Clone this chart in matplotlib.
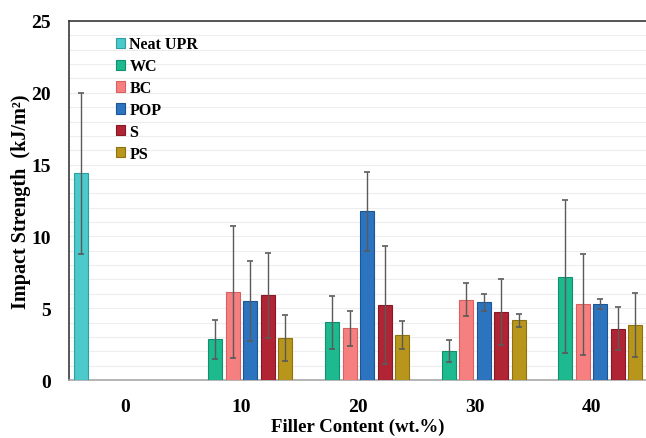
import numpy as np
import matplotlib
matplotlib.use("Agg")
import matplotlib.pyplot as plt

nan = np.nan
categories = ["0", "10", "20", "30", "40"]
series_names = ["Neat UPR", "WC", "BC", "POP", "S", "PS"]

neat_upr = [14.4, nan, nan, nan, nan]
wc = [nan, 2.83, 4.02, 2.04, 7.2]
bc = [nan, 6.1, 3.6, 5.6, 5.27]
pop = [nan, 5.5, 11.75, 5.41, 5.27]
s = [nan, 5.9, 5.22, 4.71, 3.57]
ps = [nan, 2.9, 3.13, 4.15, 3.83]

neat_upr_err = [5.6, nan, nan, nan, nan]
wc_err = [nan, 1.35, 1.85, 0.77, 5.35]
bc_err = [nan, 4.6, 1.2, 1.13, 3.5]
pop_err = [nan, 2.8, 2.75, 0.6, 0.35]
s_err = [nan, 2.95, 4.1, 2.3, 1.5]
ps_err = [nan, 1.6, 1.0, 0.47, 2.2]

values = [neat_upr, wc, bc, pop, s, ps]
errors = [neat_upr_err, wc_err, bc_err, pop_err, s_err, ps_err]
colors = ["#4CC9CB", "#1DB98F", "#F6807F", "#2C74C0", "#B02434", "#B8961C"]
edges = ["#2E9FA1", "#12906E", "#D86060", "#1D5594", "#851A26", "#8E7212"]

plt.rcParams["font.family"] = ["Liberation Serif", "DejaVu Serif"]
plt.rcParams["font.weight"] = "bold"

fig = plt.figure(figsize=(6.46, 4.39), dpi=100)
ax = fig.add_axes([0.1068, 0.1321, 0.8932, 0.8178])

x = np.arange(len(categories))
slot = 0.15
width = 0.12
handles = []
for i, (name, v, e, c, ec) in enumerate(zip(series_names, values, errors, colors, edges)):
    pos = x + (i - 2.5) * slot
    b = ax.bar(pos, v, width, color=c, edgecolor=ec, linewidth=0.8, zorder=3, label=name)
    ax.errorbar(pos, v, yerr=e, fmt="none", ecolor="#5A5A5A", elinewidth=1.0,
                capsize=2, capthick=1.2, zorder=4)
    handles.append(b)

ax.set_xlim(-0.48, 4.465)
ax.set_ylim(0, 25)
ax.set_yticks([0, 5, 10, 15, 20, 25])
ax.set_yticks(np.arange(0, 26, 1), minor=True)
ax.set_xticks(x)
ax.set_xticklabels(categories)
ax.grid(axis="y", which="both", color="#EDEDED", linewidth=0.8, zorder=0)
ax.set_axisbelow(True)

ax.tick_params(axis="both", which="both", length=0, labelsize=14)
ax.tick_params(axis="x", pad=13)
ax.tick_params(axis="y", pad=13)
for lab in ax.get_xticklabels() + ax.get_yticklabels():
    lab.set_fontweight("bold")

ax.spines["right"].set_visible(False)
ax.spines["left"].set_color("#3A3A3A")
ax.spines["left"].set_linewidth(1.2)
ax.spines["top"].set_color("#3A3A3A")
ax.spines["top"].set_linewidth(1.2)
ax.spines["bottom"].set_color("#A8A8A8")
ax.spines["bottom"].set_linewidth(1.2)

ax.set_ylabel("Impact Strength  (kJ/m²)", fontsize=14.5, fontweight="bold")
ax.yaxis.set_label_coords(-0.066, 0.5)
ax.set_xlabel("Filler Content (wt.%)", fontsize=13.5, fontweight="bold", labelpad=2)

leg = ax.legend(handles=handles, loc="upper left", bbox_to_anchor=(0.07, 0.975),
                frameon=False, fontsize=11.5, handlelength=0.6, handleheight=0.6,
                handletextpad=0.25, labelspacing=0.37, borderaxespad=0)
for t in leg.get_texts():
    t.set_fontweight("bold")

fig.savefig("out.png", dpi=100)
